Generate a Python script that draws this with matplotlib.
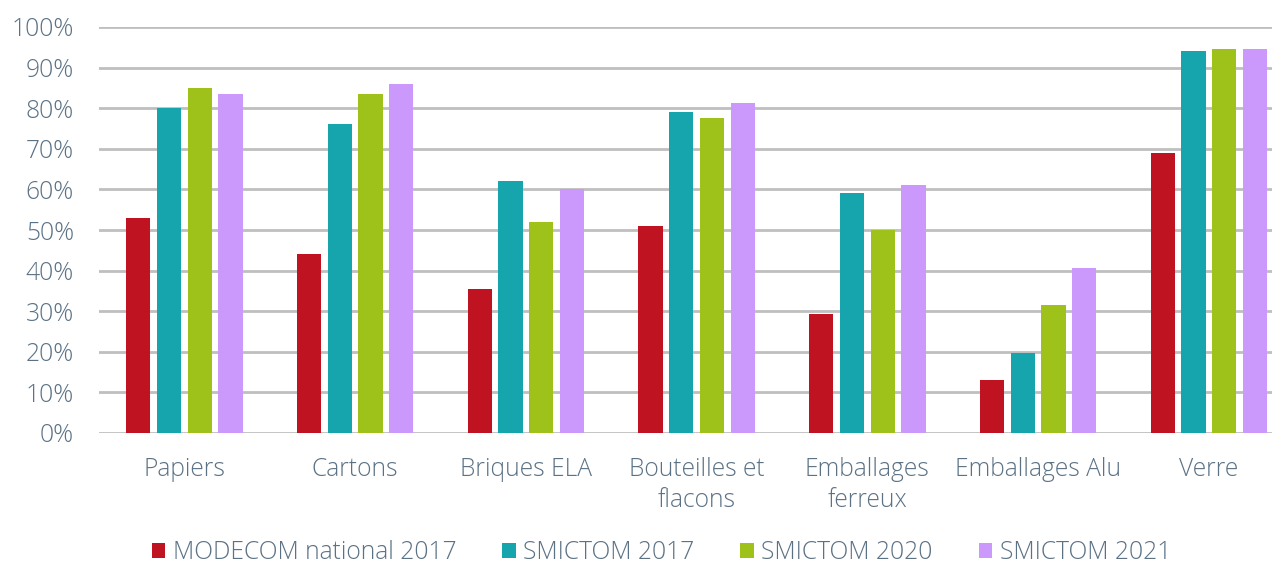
import numpy as np
import matplotlib.pyplot as plt
from matplotlib.ticker import FuncFormatter

categories = ["Papiers", "Cartons", "Briques ELA", "Bouteilles et\nflacons",
              "Emballages\nferreux", "Emballages Alu", "Verre"]
series = ["MODECOM national 2017", "SMICTOM 2017", "SMICTOM 2020", "SMICTOM 2021"]
modecom_2017 = [53, 44, 35.5, 51, 29.3, 13.1, 69]
smictom_2017 = [80, 76, 62, 79, 59, 19.7, 94]
smictom_2020 = [85, 83.5, 52, 77.6, 50, 31.5, 94.7]
smictom_2021 = [83.5, 86, 60, 81.3, 61.2, 40.7, 94.7]
colors = ["#C01321", "#16A5AD", "#9FC21B", "#CB99FC"]

text_color = "#5B7285"
plt.rcParams['font.family'] = ['Open Sans', 'DejaVu Sans']
plt.rcParams['font.weight'] = 'light'
fs = 17.7

fig = plt.figure(figsize=(12.72, 5.66), dpi=100)
ax = fig.add_axes([99 / 1272, 133 / 566, 1173 / 1272, 406 / 566])

x = np.arange(len(categories))
values = [modecom_2017, smictom_2017, smictom_2020, smictom_2021]
step = 0.18
width = 0.142
for i, (name, vals) in enumerate(zip(series, values)):
    ax.bar(x + (i - 1.5) * step, vals, width, color=colors[i], label=name, zorder=3)

ax.set_ylim(0, 100)
ax.set_xlim(-0.5, 6.37)
ax.set_yticks(np.arange(0, 101, 10))
ax.yaxis.set_major_formatter(FuncFormatter(lambda v, p: f"{int(v)}%"))
ax.grid(axis='y', color="#BFBFBF", linewidth=2, zorder=0)
for s in ax.spines.values():
    s.set_visible(False)
ax.tick_params(axis='y', length=0, pad=18, labelsize=fs, labelcolor=text_color)
ax.tick_params(axis='x', length=0, pad=17, labelsize=fs, labelcolor=text_color)
ax.set_xticks(x)
ax.set_xticklabels(categories, linespacing=1.35)

# legende en bas, centree
fig.legend(loc='center', bbox_to_anchor=(0.520, 0.024), ncol=4, frameon=False,
           fontsize=fs, labelcolor=text_color, handlelength=0.55, handleheight=0.55,
           handletextpad=0.3, columnspacing=1.87, borderpad=0.1)

fig.savefig("out.png", dpi=100)
